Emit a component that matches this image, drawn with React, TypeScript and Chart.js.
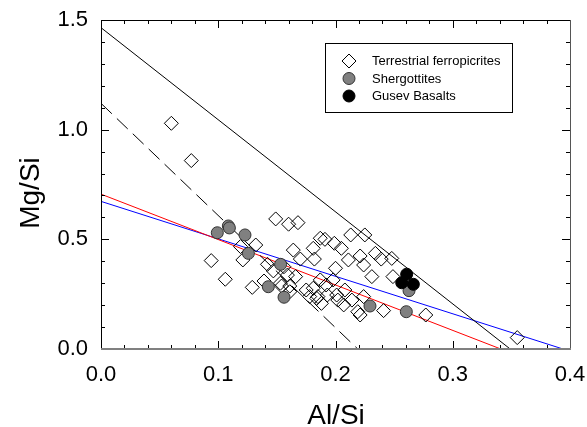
import React, { useEffect, useRef } from "react";
import { Chart, registerables } from "chart.js";

Chart.register(...registerables);

// ---------- data ----------
const ferropicrites: [number, number][] = [
  [0.060, 1.029], [0.077, 0.859], [0.149, 0.593], [0.160, 0.569], [0.168, 0.576],
  [0.094, 0.403], [0.106, 0.318], [0.119, 0.467], [0.132, 0.474], [0.121, 0.406],
  [0.129, 0.281], [0.164, 0.451], [0.170, 0.410], [0.181, 0.459], [0.182, 0.410],
  [0.187, 0.505], [0.191, 0.500], [0.199, 0.482], [0.205, 0.459], [0.213, 0.520],
  [0.225, 0.520], [0.211, 0.406], [0.221, 0.424], [0.224, 0.383], [0.234, 0.436],
  [0.239, 0.410], [0.248, 0.413], [0.231, 0.330], [0.249, 0.330], [0.200, 0.368],
  [0.139, 0.310], [0.147, 0.356], [0.142, 0.386], [0.156, 0.375], [0.161, 0.287],
  [0.154, 0.287], [0.166, 0.330], [0.161, 0.261], [0.175, 0.269], [0.187, 0.315],
  [0.192, 0.292], [0.198, 0.315], [0.185, 0.239], [0.193, 0.246], [0.201, 0.246],
  [0.207, 0.201], [0.202, 0.223], [0.188, 0.208], [0.178, 0.239], [0.208, 0.269],
  [0.214, 0.223], [0.224, 0.239], [0.219, 0.170], [0.221, 0.155], [0.241, 0.175],
  [0.277, 0.155], [0.355, 0.052], [0.153, 0.300], [0.159, 0.337], [0.181, 0.277],
  [0.184, 0.231],
];

const shergottites: [number, number][] = [
  [0.1086, 0.561], [0.1095, 0.552], [0.0992, 0.530], [0.1228, 0.520], [0.1257, 0.436],
  [0.1532, 0.386], [0.1427, 0.284], [0.1561, 0.236], [0.2627, 0.266], [0.2294, 0.196],
  [0.2604, 0.170],
];

const gusevBasalts: [number, number][] = [
  [0.2607, 0.341], [0.2565, 0.302], [0.2664, 0.295],
];

const solidLine: [number, number][] = [[0, 1.465], [0.349, 0]];
const dashedLine: [number, number][] = [[0, 1.12], [0.219, 0]];
const redLine: [number, number][] = [[0, 0.706], [0.341, 0]];
const blueLine: [number, number][] = [[0, 0.673], [0.394, 0]];

const xTickValues = [0, 0.1, 0.2, 0.3, 0.4];
const yTickValues = [0, 0.5, 1.0, 1.5];

const seriesLabels = ["Terrestrial ferropicrites", "Shergottites", "Gusev Basalts"];
const xTitle = "Al/Si";
const yTitle = "Mg/Si";

const FONT = "'Liberation Sans', Arial, Helvetica, sans-serif";

const toXY = (arr: [number, number][]) => arr.map(([x, y]) => ({ x, y }));

// ---------- plugins ----------
const framePlugin = {
  id: "frameTicks",
  afterDatasetsDraw(chart: any) {
    const { ctx, chartArea } = chart;
    const { left, right, top, bottom } = chartArea;
    const xs = chart.scales.x;
    const ys = chart.scales.y;
    ctx.save();
    ctx.strokeStyle = "#000";
    ctx.lineWidth = 1;
    ctx.beginPath();
    for (let i = 0; i <= 20; i++) {
      const v = i * 0.02;
      const px = Math.round(xs.getPixelForValue(v)) + 0.5;
      const len = i % 5 === 0 ? 8 : 4;
      ctx.moveTo(px, bottom);
      ctx.lineTo(px, bottom - len);
      ctx.moveTo(px, top);
      ctx.lineTo(px, top + len);
    }
    for (let i = 0; i <= 15; i++) {
      const v = i * 0.1;
      const py = Math.round(ys.getPixelForValue(v)) + 0.5;
      const len = i % 5 === 0 ? 8 : 4;
      ctx.moveTo(left, py);
      ctx.lineTo(left + len, py);
      ctx.moveTo(right, py);
      ctx.lineTo(right - len, py);
    }
    ctx.stroke();
    ctx.beginPath();
    ctx.strokeStyle = "#000";
    ctx.moveTo(left + 0.5, bottom);
    ctx.lineTo(left + 0.5, top + 0.5);
    ctx.lineTo(right, top + 0.5);
    ctx.stroke();
    ctx.beginPath();
    ctx.strokeStyle = "#555";
    ctx.moveTo(right + 0.5, top);
    ctx.lineTo(right + 0.5, bottom);
    ctx.stroke();
    ctx.beginPath();
    ctx.strokeStyle = "#808080";
    ctx.lineWidth = 2;
    ctx.moveTo(left, bottom);
    ctx.lineTo(right + 1, bottom);
    ctx.stroke();
    ctx.restore();
  },
};

const titlesPlugin = {
  id: "axisTitles",
  afterDraw(chart: any) {
    const { ctx } = chart;
    ctx.save();
    ctx.fillStyle = "#000";
    ctx.font = `28px ${FONT}`;
    ctx.textAlign = "center";
    ctx.textBaseline = "alphabetic";
    ctx.fillText(xTitle, 336, 424);
    ctx.translate(39, 193);
    ctx.rotate(-Math.PI / 2);
    ctx.fillText(yTitle, 0, 0);
    ctx.restore();
  },
};

const legendPlugin = {
  id: "boxLegend",
  afterDraw(chart: any) {
    const { ctx } = chart;
    const bx = 325, by = 43, bw = 187, bh = 69;
    ctx.save();
    ctx.fillStyle = "#fff";
    ctx.fillRect(bx, by, bw, bh);
    ctx.strokeStyle = "#000";
    ctx.lineWidth = 1;
    ctx.strokeRect(bx + 0.5, by + 0.5, bw, bh);
    const rows = [61, 78.5, 96];
    for (let i = 0; i < 3; i++) {
      const ds = chart.data.datasets[i];
      const cy = rows[i];
      const cx = 349;
      ctx.beginPath();
      ctx.lineWidth = 1;
      ctx.strokeStyle = ds.borderColor;
      ctx.fillStyle = ds.backgroundColor;
      if (ds.pointStyle === "rectRot") {
        const r = 7;
        ctx.moveTo(cx - r, cy);
        ctx.lineTo(cx, cy - r);
        ctx.lineTo(cx + r, cy);
        ctx.lineTo(cx, cy + r);
        ctx.closePath();
        ctx.fillStyle = "#fff";
        ctx.fill();
        ctx.stroke();
      } else {
        ctx.arc(cx, cy, 6, 0, Math.PI * 2);
        ctx.fill();
        ctx.stroke();
      }
      ctx.fillStyle = "#000";
      ctx.font = `13px ${FONT}`;
      ctx.textAlign = "left";
      ctx.textBaseline = "middle";
      ctx.fillText(ds.label, 372, cy + 0.5);
    }
    ctx.restore();
  },
};

export default function App() {
  const canvasRef = useRef<HTMLCanvasElement | null>(null);

  useEffect(() => {
    document.body.style.margin = "0";
    const canvas = canvasRef.current;
    if (!canvas) return;

    const lineDs = (label: string, pts: [number, number][], color: string, dash: number[] = []) => ({
      label,
      data: toXY(pts),
      showLine: true,
      borderColor: color,
      backgroundColor: color,
      borderWidth: 1,
      borderDash: dash,
      pointRadius: 0,
      fill: false,
      order: 3,
    });

    const chart = new Chart(canvas, {
      type: "scatter",
      data: {
        datasets: [
          {
            label: seriesLabels[0],
            data: toXY(ferropicrites),
            pointStyle: "rectRot",
            pointRadius: 7,
            borderColor: "#000",
            backgroundColor: "rgba(0,0,0,0)",
            borderWidth: 1,
            order: 2,
          },
          {
            label: seriesLabels[1],
            data: toXY(shergottites),
            pointStyle: "circle",
            pointRadius: 6,
            borderColor: "#333",
            backgroundColor: "#808080",
            borderWidth: 1,
            order: 1,
          },
          {
            label: seriesLabels[2],
            data: toXY(gusevBasalts),
            pointStyle: "circle",
            pointRadius: 6,
            borderColor: "#000",
            backgroundColor: "#000",
            borderWidth: 1,
            order: 0,
          },
          lineDs("solid", solidLine, "#000"),
          lineDs("dashed", dashedLine, "#000", [15, 7]),
          lineDs("red", redLine, "#ff0000"),
          lineDs("blue", blueLine, "#0000ff"),
        ] as any,
      },
      options: {
        animation: false,
        responsive: true,
        maintainAspectRatio: false,
        events: [],
        layout: { padding: { top: 20, right: 17, left: 0, bottom: 0 } },
        plugins: {
          legend: { display: false },
          tooltip: { enabled: false },
        },
        scales: {
          x: {
            type: "linear",
            min: 0,
            max: 0.4,
            grid: { display: false, drawTicks: false },
            border: { display: false },
            afterBuildTicks: (s: any) => {
              s.ticks = xTickValues.map((v) => ({ value: v }));
            },
            afterFit: (s: any) => {
              s.height = 78;
              s.paddingLeft = 0;
              s.paddingRight = 0;
            },
            ticks: {
              padding: 13,
              color: "#000",
              font: { family: FONT, size: 22 },
              maxRotation: 0,
              callback: (v: any) => Number(v).toFixed(1),
            },
          },
          y: {
            type: "linear",
            min: 0,
            max: 1.5,
            grid: { display: false, drawTicks: false },
            border: { display: false },
            afterBuildTicks: (s: any) => {
              s.ticks = yTickValues.map((v) => ({ value: v }));
            },
            afterFit: (s: any) => {
              s.width = 101;
              s.paddingTop = 0;
              s.paddingBottom = 0;
            },
            ticks: {
              padding: 13,
              color: "#000",
              font: { family: FONT, size: 22 },
              callback: (v: any) => Number(v).toFixed(1),
            },
          },
        },
      } as any,
      plugins: [framePlugin, legendPlugin, titlesPlugin],
    });

    return () => chart.destroy();
  }, []);

  return (
    <div style={{ position: "relative", width: 587, height: 427 }}>
      <canvas ref={canvasRef} />
    </div>
  );
}
